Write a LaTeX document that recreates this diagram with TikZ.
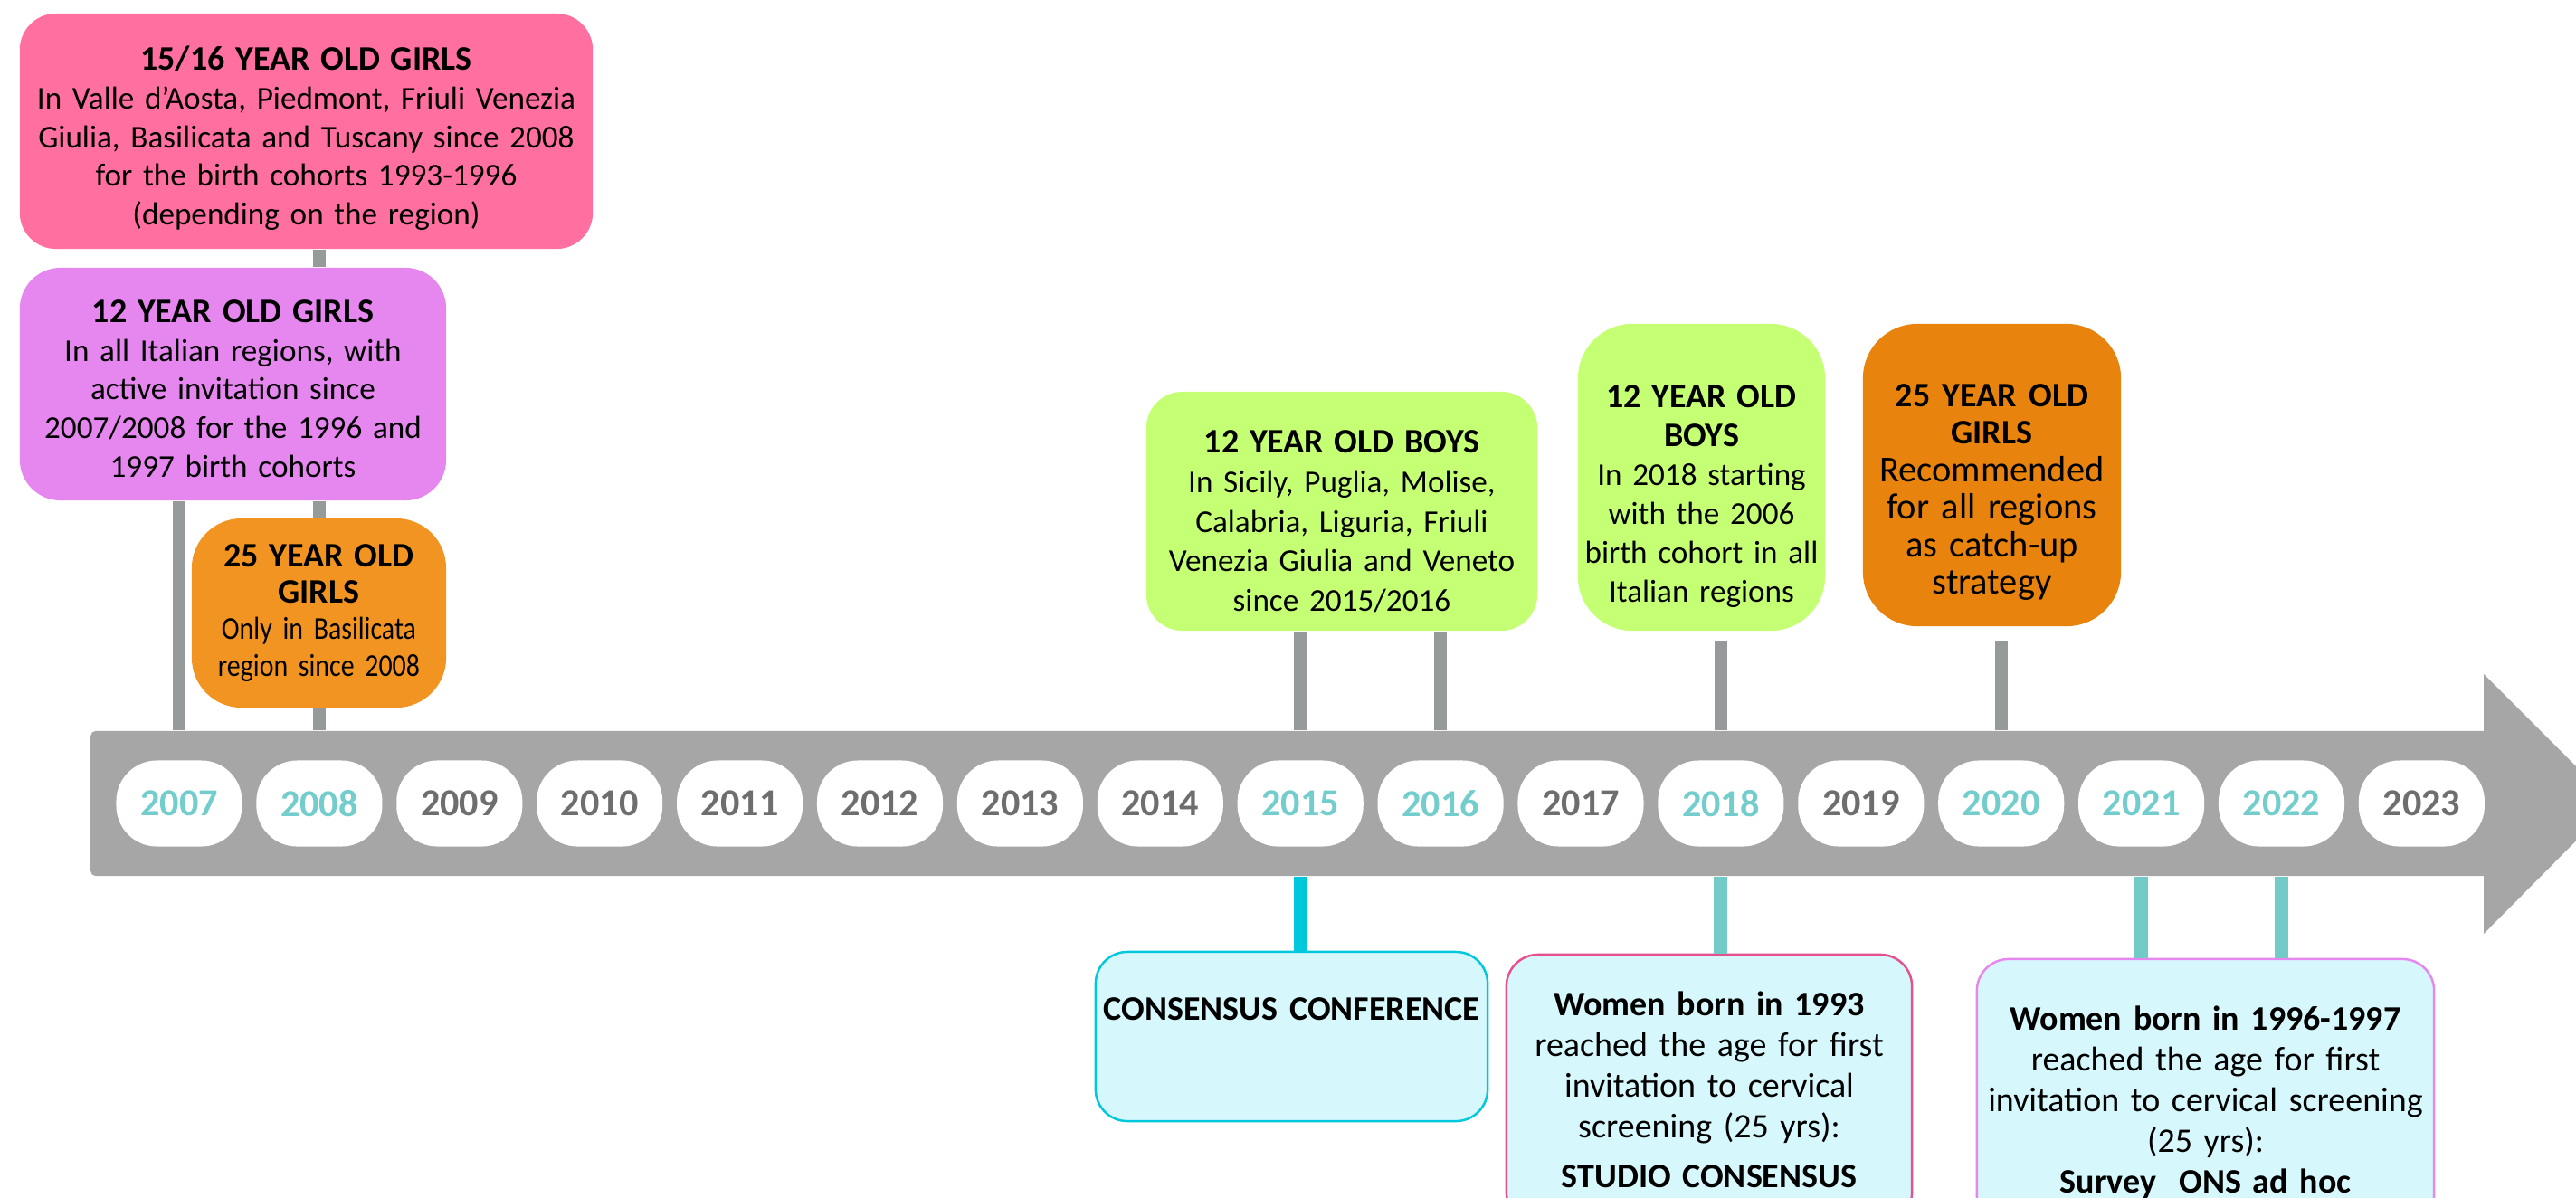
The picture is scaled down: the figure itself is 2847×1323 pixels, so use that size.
\documentclass[tikz,border=0pt]{standalone}
\usepackage{fontspec}
\setmainfont{Carlito}
\newfontfamily\narrowfont[FakeStretch=0.85]{Carlito}
\usepackage{tikz}

\definecolor{bargrey}{RGB}{166,166,166}
\definecolor{stemgrey}{RGB}{150,154,154}
\definecolor{stemteal}{RGB}{115,203,200}
\definecolor{consc}{RGB}{0,200,220}
\definecolor{yearteal}{RGB}{115,205,205}
\definecolor{yeargrey}{RGB}{110,110,110}
\definecolor{pinkfill}{RGB}{255,111,160}
\definecolor{violetfill}{RGB}{230,135,240}
\definecolor{orangeA}{RGB}{242,148,34}
\definecolor{orangeB}{RGB}{232,131,14}
\definecolor{limefill}{RGB}{197,255,115}
\definecolor{lightcyan}{RGB}{214,247,251}
\definecolor{studiopink}{RGB}{230,80,140}

\newcommand{\hd}[1]{{\fontsize{10.8}{12.2}\selectfont\bfseries #1}}

\begin{document}
\begin{tikzpicture}
    [x=0.01cm, y=-0.01cm,
     bar/.style={shape=rectangle, fill=bargrey, rounded corners=1.5pt, inner sep=0pt,
                 minimum width=26.48cm, minimum height=1.6cm},
     yearpill/.style={shape=rectangle, fill=white, rounded corners=0.45cm, inner sep=0pt,
                      minimum width=1.39cm, minimum height=0.95cm,
                      font=\fontsize{12}{14}\selectfont\bfseries},
     tbox/.style={shape=rectangle, align=center, inner sep=0pt,
                  font=\fontsize{10}{12.2}\selectfont},
     lowbox/.style={tbox, fill=lightcyan, line width=0.7pt, rounded corners=0.35cm,
                    font=\fontsize{10.8}{12.8}\selectfont},
     upstem/.style={line width=0.14cm, stemgrey},
     downcyan/.style={line width=0.15cm, consc},
     downteal/.style={line width=0.15cm, stemteal}]
    \useasboundingbox (0,0) rectangle (2847,1323);
    \clip (0,0) rectangle (2847,1323);

    % timeline arrow
    \node[bar] (bar) at (1425, 888) {};
    \fill[bargrey] (2745,745) -- (2888,888) -- (2745,1032) -- cycle;

    % years
    \node[yearpill, text=yearteal] (y2007) at (198, 888) {2007};
    \node[yearpill, text=yearteal] (y2008) at (352.9, 888) {2008};
    \node[yearpill, text=yeargrey] (y2009) at (507.8, 888) {2009};
    \node[yearpill, text=yeargrey] (y2010) at (662.7, 888) {2010};
    \node[yearpill, text=yeargrey] (y2011) at (817.6, 888) {2011};
    \node[yearpill, text=yeargrey] (y2012) at (972.5, 888) {2012};
    \node[yearpill, text=yeargrey] (y2013) at (1127.4, 888) {2013};
    \node[yearpill, text=yeargrey] (y2014) at (1282.3, 888) {2014};
    \node[yearpill, text=yearteal] (y2015) at (1437.2, 888) {2015};
    \node[yearpill, text=yearteal] (y2016) at (1592.1, 888) {2016};
    \node[yearpill, text=yeargrey] (y2017) at (1747, 888) {2017};
    \node[yearpill, text=yearteal] (y2018) at (1901.9, 888) {2018};
    \node[yearpill, text=yeargrey] (y2019) at (2056.8, 888) {2019};
    \node[yearpill, text=yearteal] (y2020) at (2211.7, 888) {2020};
    \node[yearpill, text=yearteal] (y2021) at (2366.6, 888) {2021};
    \node[yearpill, text=yearteal] (y2022) at (2521.5, 888) {2022};
    \node[yearpill, text=yeargrey] (y2023) at (2676.4, 888) {2023};

    % vaccination boxes
    \node[tbox, fill=pinkfill, rounded corners=0.4cm, text width=6.33cm, minimum height=2.6cm]
        (sixteen) at (338.5, 145)
        {\rule{0pt}{12pt}\hd{15/16 YEAR OLD GIRLS}\\In Valle d’Aosta, Piedmont, Friuli Venezia\\Giulia, Basilicata and Tuscany since 2008\\for the birth cohorts 1993-1996\\(depending on the region)};
    \node[tbox, fill=violetfill, rounded corners=0.45cm, text width=4.71cm, minimum height=2.57cm]
        (twelvegirls) at (257.5, 424.5)
        {\rule{0pt}{10pt}\hd{12 YEAR OLD GIRLS}\\In all Italian regions, with\\active invitation since\\2007/2008 for the 1996 and\\1997 birth cohorts};
    \node[tbox, fill=orangeA, rounded corners=0.55cm, text width=2.81cm, minimum height=2.09cm,
          font=\fontsize{10}{11.4}\selectfont]
        (basil) at (352.5, 677.5)
        {\hd{25 YEAR OLD}\\\hd{GIRLS}\\{\narrowfont Only in Basilicata}\\{\narrowfont region since 2008}};
    \node[tbox, fill=limefill, rounded corners=0.4cm, text width=4.32cm, minimum height=2.64cm,
          font=\fontsize{10}{12.5}\selectfont]
        (boys) at (1483, 565)
        {\rule{0pt}{13.5pt}\hd{12 YEAR OLD BOYS}\\In Sicily, Puglia, Molise,\\Calabria, Liguria, Friuli\\Venezia Giulia and Veneto\\since 2015/2016};
    \node[tbox, fill=limefill, rounded corners=0.6cm, text width=2.73cm, minimum height=3.39cm]
        (boys18) at (1880.5, 527.5)
        {\rule{0pt}{19pt}\hd{12 YEAR OLD}\\\hd{BOYS}\\In 2018 starting\\with the 2006\\birth cohort in all\\Italian regions};
    \node[tbox, fill=orangeB, rounded corners=0.6cm, text width=2.85cm, minimum height=3.34cm,
          font=\fontsize{11.5}{11.8}\selectfont]
        (catchup) at (2201.5, 525)
        {\rule{0pt}{17.8pt}\hd{25 YEAR OLD}\\\hd{GIRLS}\\Recommended\\for all regions\\as catch-up\\strategy};

    % screening boxes
    \node[lowbox, draw=consc, text width=4.33cm, minimum height=1.87cm]
        (cons) at (1427.5, 1145.5)
        {\textbf{CONSENSUS CONFERENCE}\rule[-17.4pt]{0pt}{17.4pt}};
    \node[lowbox, draw=studiopink, text width=4.48cm, minimum height=2.98cm]
        (studio) at (1889, 1204)
        {\textbf{Women born in 1993}\\reached the age for first\\invitation to cervical\\screening (25 yrs):\\[2.8pt]\textbf{STUDIO CONSENSUS}};
    \node[lowbox, draw=violetfill, text width=5.05cm, minimum height=3.16cm]
        (survey) at (2437.5, 1218)
        {\textbf{Women born in 1996-1997}\\reached the age for first\\invitation to cervical screening\\(25 yrs):\\\textbf{Survey~~ONS ad hoc}};

    % stems
    \path [upstem] (twelvegirls.south -| y2007) edge (bar.north -| y2007);
    \path [upstem] (sixteen.south -| y2008) edge (twelvegirls.north -| y2008);
    \path [upstem] (twelvegirls.south -| y2008) edge (basil.north -| y2008);
    \path [upstem] (basil.south -| y2008) edge (bar.north -| y2008);
    \path [upstem] (boys.south -| y2015) edge (bar.north -| y2015);
    \path [upstem] (boys.south -| y2016) edge (bar.north -| y2016);
    \path [upstem] (boys18.south -| y2018) edge [shorten <=0.1cm] (bar.north -| y2018);
    \path [upstem] (catchup.south -| y2020) edge [shorten <=0.15cm] (bar.north -| y2020);

    \path [downcyan] (bar.south -| y2015) edge (cons.north -| y2015);
    \path [downteal] (bar.south -| y2018) edge (studio.north -| y2018);
    \path [downteal] (bar.south -| y2021) edge (survey.north -| y2021);
    \path [downteal] (bar.south -| y2022) edge (survey.north -| y2022);
\end{tikzpicture}
\end{document}
